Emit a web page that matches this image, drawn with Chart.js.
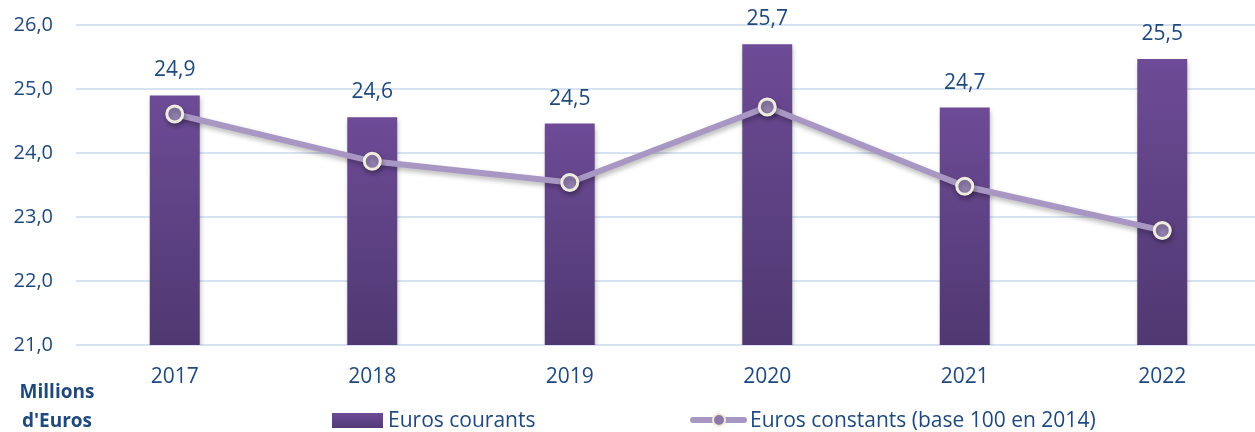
<!DOCTYPE html>
<html>
<head>
<meta charset="utf-8">
<script src="https://cdn.jsdelivr.net/npm/chart.js@4.4.1/dist/chart.umd.min.js"></script>
<style>
  html, body { margin: 0; padding: 0; background: #fff; overflow: hidden; }
  body { width: 1255px; height: 432px; position: relative; font-family: "Open Sans", sans-serif; color: #1f497d; }
  #wrap { position: absolute; left: 0; top: 0; width: 1261px; height: 432px; }
  .unit { position: absolute; left: 7px; width: 100px; text-align: center; font-weight: bold; font-size: 19px; line-height: 28px; }
  .leg { position: absolute; font-size: 21px; line-height: 26px; white-space: nowrap; }
  .swatch { position: absolute; }
</style>
</head>
<body>
<div id="wrap"><canvas id="chart" width="1261" height="432"></canvas></div>

<div class="unit" style="top: 377px;">Millions</div>
<div class="unit" style="top: 406px;">d'Euros</div>

<div class="swatch" style="left: 332px; top: 413px; width: 51px; height: 15px; background: linear-gradient(#6d4b96, #533a78);"></div>
<div class="leg" style="left: 388px; top: 406px;">Euros courants</div>

<div class="swatch" style="left: 690px; top: 417px; width: 57px; height: 6px; border-radius: 3px; background: #a897c3;"></div>
<div class="swatch" style="left: 712px; top: 413px; width: 10px; height: 10px; border-radius: 50%; background: #8c79aa; border: 2px solid #eeeadc;"></div>
<div class="leg" style="left: 750px; top: 406px;">Euros constants (base 100 en 2014)</div>

<script>
// categories and series
const years = ["2017", "2018", "2019", "2020", "2021", "2022"];
const eurosCourants = [24.9, 24.56, 24.46, 25.7, 24.71, 25.47];
const eurosConstants = [24.61, 23.87, 23.54, 24.72, 23.48, 22.79];
const yTicks = [21, 22, 23, 24, 25, 26];

const textColor = "#1f497d";
const fmt = (v) => v.toFixed(1).replace(".", ",");

// Light shadow under bars and the line
const shadowPlugin = {
  id: "shadow",
  beforeDatasetDraw(chart) {
    const ctx = chart.ctx;
    ctx.save();
    ctx.shadowColor = "rgba(0, 0, 0, 0.28)";
    ctx.shadowBlur = 5;
    ctx.shadowOffsetX = 1;
    ctx.shadowOffsetY = 3;
  },
  afterDatasetDraw(chart) {
    chart.ctx.restore();
  },
};

// Value labels above the bars
const barLabels = {
  id: "barLabels",
  afterDatasetsDraw(chart) {
    const ctx = chart.ctx;
    const meta = chart.getDatasetMeta(0);
    ctx.save();
    ctx.fillStyle = textColor;
    ctx.font = '21px "Open Sans"';
    ctx.textAlign = "center";
    ctx.textBaseline = "middle";
    meta.data.forEach((bar, i) => {
      ctx.fillText(fmt(eurosCourants[i]), bar.x, bar.y - 25);
    });
    ctx.restore();
  },
};

const ctx = document.getElementById("chart").getContext("2d");

new Chart(ctx, {
  type: "bar",
  data: {
    labels: years,
    datasets: [
      {
        label: "Euros courants",
        data: eurosCourants,
        order: 2,
        categoryPercentage: 1,
        barPercentage: 0.253,
        backgroundColor: (c) => {
          const chart = c.chart;
          const area = chart.chartArea;
          if (!area || c.dataIndex === undefined) return "#614388";
          const top = chart.scales.y.getPixelForValue(eurosCourants[c.dataIndex]);
          const g = chart.ctx.createLinearGradient(0, top, 0, area.bottom);
          g.addColorStop(0, "#6d4b96");
          g.addColorStop(1, "#4f3871");
          return g;
        },
      },
      {
        type: "line",
        label: "Euros constants (base 100 en 2014)",
        data: eurosConstants,
        order: 1,
        borderColor: "#a897c3",
        borderWidth: 6,
        tension: 0,
        pointRadius: 8,
        pointBorderWidth: 3,
        pointBackgroundColor: "#917eae",
        pointBorderColor: "#f0ece0",
      },
    ],
  },
  options: {
    responsive: false,
    animation: false,
    events: [],
    layout: { autoPadding: false, padding: { top: 25, right: 0, bottom: 0, left: 0 } },
    scales: {
      y: {
        min: 21,
        max: 26,
        afterFit: (s) => { s.width = 76; },
        afterBuildTicks: (s) => { s.ticks = yTicks.map((v) => ({ value: v })); },
        border: { display: false },
        // invisible tick marks keep the labels away from the grid lines
        grid: { color: "#d8e3f2", lineWidth: 2, drawTicks: true, tickLength: 23, tickColor: "rgba(0,0,0,0)" },
        ticks: {
          padding: 0,
          color: textColor,
          font: { family: "Open Sans", size: 20 },
          callback: (v) => fmt(v),
        },
      },
      x: {
        afterFit: (s) => { s.height = 87; },
        border: { display: false },
        grid: { display: false },
        ticks: {
          padding: 11,
          color: textColor,
          font: { family: "Open Sans", size: 21 },
        },
      },
    },
    plugins: {
      legend: { display: false },
      tooltip: { enabled: false },
    },
  },
  plugins: [shadowPlugin, barLabels],
});
</script>
</body>
</html>
